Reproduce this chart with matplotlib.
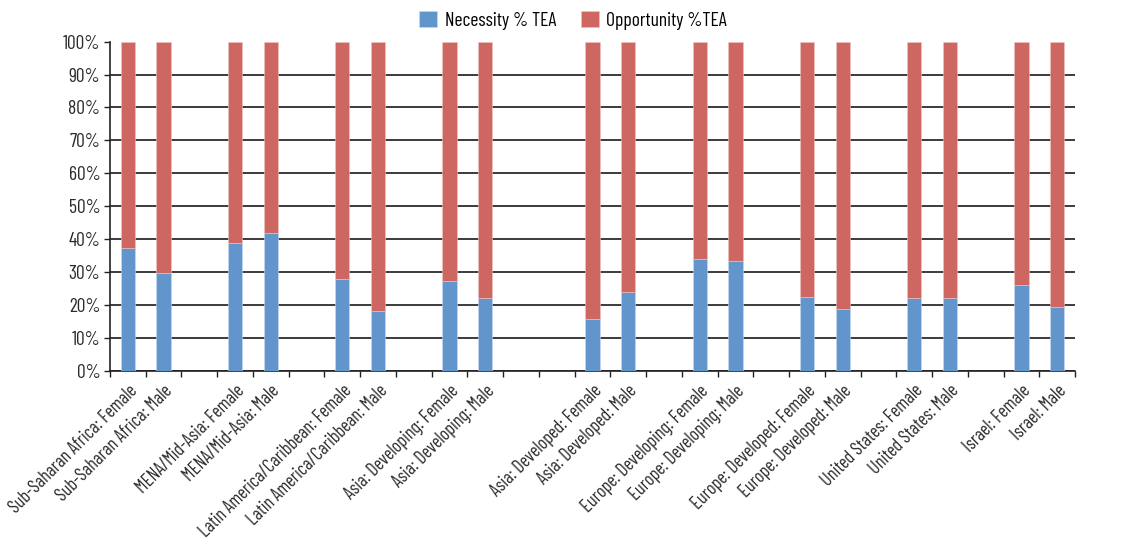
import numpy as np
import matplotlib
matplotlib.use("Agg")
import matplotlib.pyplot as plt
from matplotlib.ticker import PercentFormatter

plt.rcParams['font.family'] = ['Barlow Condensed', 'DejaVu Sans']

# categories (blank strings are the empty gap slots in the original chart)
categories = [
    "Sub-Saharan Africa: Female", "Sub-Saharan Africa: Male", "",
    "MENA/Mid-Asia: Female", "MENA/Mid-Asia: Male", "",
    "Latin America/Caribbean: Female", "Latin America/Caribbean: Male", "",
    "Asia: Developing: Female", "Asia: Developing: Male", "", "",
    "Asia: Developed: Female", "Asia: Developed: Male", "",
    "Europe: Developing: Female", "Europe: Developing: Male", "",
    "Europe: Developed: Female", "Europe: Developed: Male", "",
    "United States: Female", "United States: Male", "",
    "Israel: Female", "Israel: Male",
]

# necessity share of TEA (nan = empty slot)
necessity = [
    37.4, 29.6, np.nan,
    38.7, 41.8, np.nan,
    27.8, 18.1, np.nan,
    27.3, 22.0, np.nan, np.nan,
    15.8, 23.9, np.nan,
    34.0, 33.4, np.nan,
    22.5, 18.7, np.nan,
    22.0, 22.0, np.nan,
    26.0, 19.3,
]
opportunity = [100 - v for v in necessity]

blue = '#6295CC'
red = '#CE6661'

fig = plt.figure(figsize=(11.26, 5.52), dpi=100)
ax = fig.add_axes([0.0977, 0.3284, 0.857, 0.5961])

x = np.arange(len(categories))
nec = np.array(necessity) / 100
opp = np.array(opportunity) / 100
ax.bar(x, nec, width=0.4, color=blue, edgecolor='#C9DAF0', linewidth=0.4, label='Necessity % TEA', zorder=3)
ax.bar(x, opp, bottom=nec, width=0.4, color=red, edgecolor='#F0C6C4', linewidth=0.4, label='Opportunity %TEA', zorder=3)

ax.set_xlim(-0.5, len(categories) - 0.5)
ax.set_ylim(0, 1)
ax.set_yticks(np.arange(0, 1.01, 0.1))
ax.yaxis.set_major_formatter(PercentFormatter(1.0, decimals=0))
ax.tick_params(axis='y', labelsize=14, length=4, width=1, color='#222222', labelcolor='#2a2a2a', pad=3)

# category labels at bar centres, tick marks at slot boundaries
ax.set_xticks(x)
ax.set_xticklabels(categories, rotation=45, ha='right', rotation_mode='anchor', fontsize=13.2, color='#2a2a2a')
ax.tick_params(axis='x', which='major', length=0, pad=8)
ax.set_xticks(np.arange(-0.5, len(categories) + 0.5, 1), minor=True)
ax.tick_params(axis='x', which='minor', length=4, width=1, color='#222222')

ax.grid(axis='y', color='#1a1a1a', linewidth=1.2, zorder=0)
ax.yaxis.get_gridlines()[-1].set_visible(False)
ax.set_axisbelow(True)

for s in ['top', 'right']:
    ax.spines[s].set_visible(False)
for s in ['left', 'bottom']:
    ax.spines[s].set_color('#222222')
    ax.spines[s].set_linewidth(1.2)

ax.legend(loc='lower center', bbox_to_anchor=(0.48, 1.0), ncol=2, frameon=False,
          fontsize=14, handlelength=0.9, handleheight=0.9, handletextpad=0.4,
          columnspacing=1.3, borderaxespad=0.2)

fig.savefig('out.png', dpi=100)
